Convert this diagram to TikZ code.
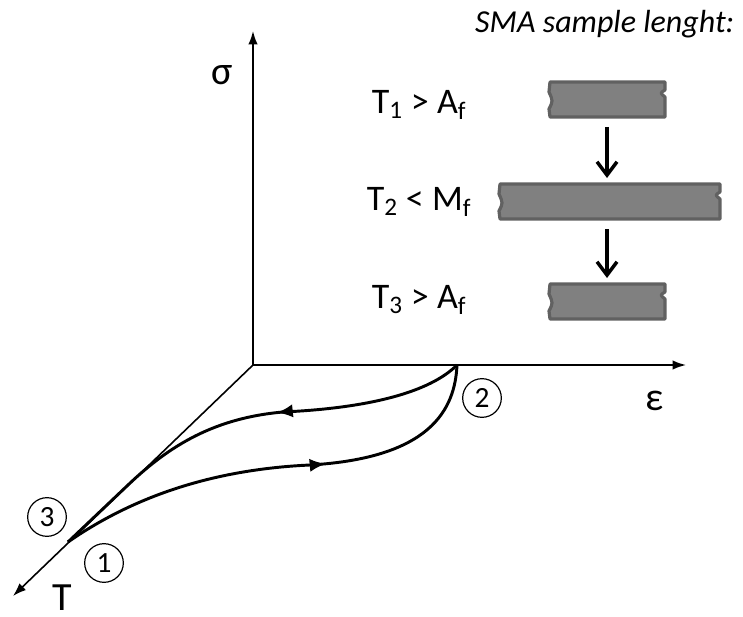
\documentclass[tikz,border=0pt]{standalone}
\usepackage{fontspec}
\setmainfont{Carlito}
\usetikzlibrary{arrows.meta,decorations.markings}
\tikzset{
    axisline/.style={line width=1.2pt,draw=black,-{Latex[length=10pt,width=7pt]}},
    loopcurve/.style={line width=2.2pt,draw=black},
    midarrow/.style={postaction={decorate,decoration={markings,
        mark=at position #1 with {\arrow{Latex[length=12pt,width=10pt]}}}}},
    circnum/.style={circle,draw=black,line width=0.9pt,minimum size=29pt,inner sep=0pt,
        font=\fontsize{22}{22}\selectfont},
    samplebar/.style={fill=black!50,draw=black!62,line width=2.4pt,line join=round},
    samplearrow/.style={line width=2.6pt,-{Straight Barb[length=10pt,width=15pt]}},
    axislabel/.style={font=\fontsize{30}{30}\selectfont,inner sep=0pt},
    templabel/.style={font=\fontsize{27}{27}\selectfont}
}

\begin{document}
\begin{tikzpicture}[x=0.75pt,y=-0.75pt]
  \useasboundingbox (0,0) rectangle (743,617);
  % axes
  \coordinate (O) at (253,365);
  \coordinate (S) at (253,31);
  \coordinate (E) at (686,365);
  \coordinate (Tx) at (13,596);
  \draw[axisline] (O) -- (S);
  \draw[axisline] (O) -- (E);
  \draw[axisline] (O) -- (Tx);
  \node[axislabel] (sig) at (222,75) {σ};
  \node[axislabel] (eps) at (655,401) {ε};
  \node[axislabel] (tlab) at (62,598) {T};

  % loop
  \coordinate (p1) at (68,542);
  \coordinate (p2) at (457,365);
  \coordinate (m1) at (310,465);
  \coordinate (m2) at (283,412);
  \coordinate (q) at (128,485);
  \draw[loopcurve,midarrow=0.6] (p1) .. controls (140,492) and (222,469) .. (m1)
    .. controls (430,458) and (455,410) .. (p2);
  \draw[loopcurve,midarrow=0.43,line join=round] (p2) .. controls (430,392) and (370,408) .. (m2)
    .. controls (215,418) and (170,445) .. (q) -- (p1);
  \node[circnum] (c1) at (104,563) {1};
  \node[circnum] (c2) at (482,398) {2};
  \node[circnum] (c3) at (47,517) {3};

  % samples
  \node[font=\fontsize{24}{24}\selectfont\itshape,anchor=east] (title) at (739,24) {SMA sample lenght:};
  \node[templabel] (t1) at (419,105) {T\textsubscript{1} > A\textsubscript{f}};
  \node[templabel] (t2) at (419,202) {T\textsubscript{2} < M\textsubscript{f}};
  \node[templabel] (t3) at (419,300) {T\textsubscript{3} > A\textsubscript{f}};
  \foreach \xa/\xb/\y in {550/665/82, 500/720/184, 550/665/284}{
    \draw[samplebar] (\xa,\y) -- (\xb,\y) -- (\xb,\y+8) .. controls (\xb-5,\y+11) .. (\xb,\y+15)
      -- (\xb,\y+35) -- (\xa,\y+35) -- (\xa-1,\y+27) .. controls (\xa+3,\y+19) .. (\xa-1,\y+10)
      -- cycle;
  }
  \coordinate (a1s) at (607,127);
  \coordinate (a1e) at (607,178);
  \coordinate (a2s) at (607,229);
  \coordinate (a2e) at (607,278);
  \draw[samplearrow] (a1s) -- (a1e);
  \draw[samplearrow] (a2s) -- (a2e);
\end{tikzpicture}
\end{document}
